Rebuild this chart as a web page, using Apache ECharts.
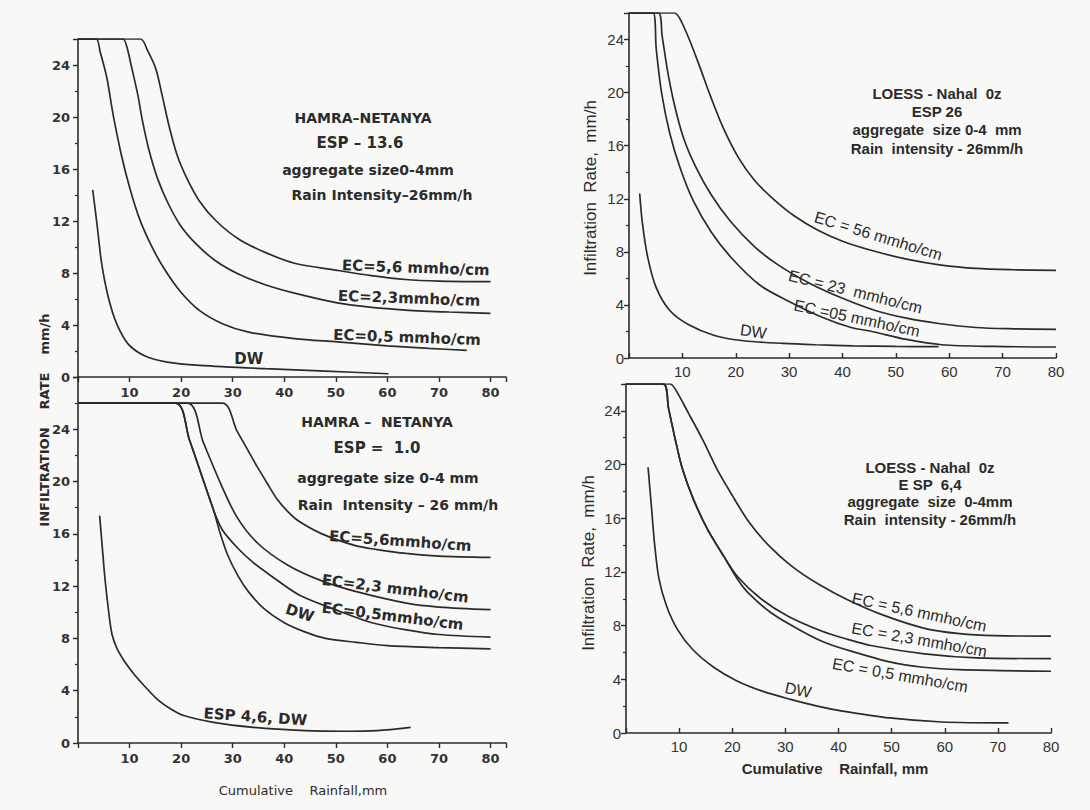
<!DOCTYPE html>
<html><head><meta charset="utf-8">
<script src="https://cdn.jsdelivr.net/npm/echarts@6/dist/echarts.min.js"></script>
<style>html,body{margin:0;padding:0;background:#f8f8f6}#c{width:1090px;height:810px}</style>
</head><body><div id="c"></div>
<script>
// ---------------- tick labels ----------------
const xTickValues = [10, 20, 30, 40, 50, 60, 70, 80];
const yTickValues = [0, 4, 8, 12, 16, 20, 24];

// ---------------- HAMRA-NETANYA, ESP 13.6 (top left) ----------------
const hamra136_EC56 = [[0,26],[12.1,26],[13.5,25.1],[15.1,23.7],[16.3,21.7],[17.6,19.4],[19.2,17.1],[21.1,15.3],[23.6,13.5],[26.8,12.0],[31.2,10.6],[36.5,9.55],[42,8.75],[50.3,8.2],[56.9,7.8],[63.5,7.5],[70,7.38],[80,7.33]];
const hamra136_EC23 = [[0,26],[8.7,26],[9.4,25.5],[10.3,24],[11.6,21.7],[12.5,19.7],[13.8,17.4],[15.4,15.3],[17.3,13.5],[19.8,11.7],[23,10.2],[26.8,8.9],[31.2,7.9],[36.3,7.1],[42,6.45],[50.3,5.7],[57,5.35],[63.5,5.15],[72,5.0],[80,4.9]];
const hamra136_EC05 = [[0,26],[3.5,26],[4.3,25],[5.6,23],[6.8,20.2],[8.4,17.1],[10,14.6],[11.9,12.2],[14.1,10.2],[16.6,8.4],[19.8,6.6],[23.6,5.1],[28,4.1],[33.1,3.45],[42,2.95],[50.3,2.7],[60,2.4],[68,2.2],[75.4,2.05]];
const hamra136_DW   = [[2.85,14.4],[3.7,11.7],[4.6,8.7],[5.9,6.1],[7.5,4.1],[9.7,2.55],[12.8,1.66],[17.3,1.15],[23.6,0.9],[36.3,0.64],[48,0.45],[60.2,0.25]];

// ---------------- HAMRA-NETANYA, ESP 1.0 (bottom left) ----------------
const hamra10_EC56 = [[0,26],[28,26],[30.8,23.9],[32.8,22.5],[34.8,21.1],[36.8,19.8],[38.7,18.6],[40.7,17.7],[42.7,17.0],[47.3,16.0],[53.8,15.1],[58,14.8],[63.7,14.5],[70,14.3],[80,14.2]];
const hamra10_EC23 = [[0,26],[21.2,26],[24.3,23.0],[27.6,19.9],[30.8,17.3],[34.8,15.3],[40.7,13.6],[47.3,12.4],[53.8,11.6],[63.7,10.7],[70,10.4],[80,10.2]];
const hamra10_EC05 = [[0,26],[18.9,26],[21.6,23.2],[24.3,20.1],[26.3,17.8],[28,16.3],[31,14.9],[34,13.8],[37.4,12.8],[43,11.3],[50.6,10.1],[57,9.2],[63.7,8.65],[70,8.3],[80,8.1]];
const hamra10_DW   = [[0,26],[18.9,26],[21.6,23.2],[24.3,20.1],[26.3,17.8],[27.6,16.0],[29,14.4],[31,12.8],[33,11.6],[36,10.3],[40,9.2],[44,8.5],[48,8.0],[54,7.7],[60,7.45],[70,7.3],[80,7.2]];
const hamra46_DW   = [[4.2,17.4],[4.6,15.5],[5.2,12.7],[5.9,10.2],[6.6,8.3],[7.6,7.2],[9.1,6.2],[11,5.2],[12.8,4.4],[15.5,3.3],[18,2.6],[20.5,2.1],[26,1.6],[34,1.2],[44,0.95],[52,0.9],[58,0.95],[64.5,1.2]];

// ---------------- LOESS-Nahal Oz, ESP 26 (top right) ----------------
const loess26_EC56 = [[0,26],[8.5,26],[9.5,25.6],[11.3,24],[13.3,21.9],[15.3,19.7],[17.7,17.3],[20.5,15.1],[23.5,13.4],[27,12.0],[31,10.7],[35.5,9.6],[40,8.8],[45.5,8.1],[52,7.45],[58.5,7.0],[65,6.75],[72,6.65],[80,6.6]];
const loess26_EC23 = [[0,26],[5.5,26],[6.2,24.3],[7.2,21.7],[8.5,19.1],[10.2,16.6],[12.5,14.4],[15.4,12.3],[19,10.3],[23.5,8.4],[28,7.0],[34,5.6],[40,4.5],[46,3.6],[52,3.0],[58,2.6],[65,2.3],[72,2.2],[80,2.15]];
const loess26_EC05 = [[0,26],[4.5,26],[5.1,23.3],[6.1,20.0],[7.6,17.0],[9.6,14.3],[12.1,11.8],[15.4,9.5],[19.3,7.5],[24.5,5.5],[29.8,4.3],[36.3,3.05],[41.6,2.3],[45.5,2.0],[52,1.4],[58.6,1.0],[68.5,0.87],[80,0.83]];
const loess26_DW   = [[2,12.4],[2.5,10.2],[3.5,7.6],[5.1,5.3],[7.6,3.6],[11.2,2.5],[16,1.7],[21.5,1.3],[28.9,1.1],[35,1.0],[42,0.92],[50,0.87],[58,0.85]];

// ---------------- LOESS-Nahal Oz, ESP 6.4 (bottom right) ----------------
const loess64_EC56 = [[0,26],[8.3,26],[9.3,25.6],[11.8,23.8],[14.5,21.8],[17.2,19.6],[20,17.7],[23,15.8],[26.8,14.0],[31.3,12.4],[36.6,11.0],[41.6,9.95],[48.3,8.8],[56.2,7.8],[62.8,7.4],[69.4,7.25],[80,7.22]];
const loess64_EC23 = [[0,26],[7,26],[8,24.2],[9.2,22],[10.6,19.7],[12.6,17.5],[15.3,15.2],[18.5,13.1],[21.1,11.6],[25.4,10.0],[30.5,8.7],[36.8,7.6],[41.5,7.0],[46.3,6.5],[56.2,5.9],[66,5.6],[80,5.54]];
const loess64_EC05 = [[0,26],[7,26],[8,24.2],[9.2,22],[10.6,19.7],[12.6,17.5],[15.3,15.2],[18.5,13.1],[21.1,11.4],[23.1,10.4],[27.5,8.9],[32.6,7.7],[37.1,6.8],[41.5,6.2],[49.6,5.3],[56,4.9],[62.8,4.72],[80,4.6]];
const loess64_DW   = [[4.15,19.8],[4.8,16.8],[5.4,14.0],[6.2,11.5],[7.6,9.5],[9.7,7.7],[12.6,6.2],[16.5,4.9],[20.8,3.9],[25.8,3.1],[31,2.5],[36,2.0],[40.5,1.65],[49.6,1.12],[59.5,0.82],[72,0.75]];

// ---------------- curve label texts ----------------
const labelsTL = ['EC=5,6 mmho/cm', 'EC=2,3mmho/cm', 'EC=0,5 mmho/cm', 'DW'];
const labelsBL = ['EC=5,6mmho/cm', 'EC=2,3 mmho/cm', 'EC=0,5mmho/cm', 'DW', 'ESP 4,6, DW'];
const labelsTR = ['EC = 56 mmho/cm', 'EC = 23  mmho/cm', 'EC =05 mmho/cm', 'DW'];
const labelsBR = ['EC = 5,6 mmho/cm', 'EC = 2,3 mmho/cm', 'EC = 0,5 mmho/cm', 'DW'];

// ---------------- layout / styling (not data) ----------------
const INK = '#2b2b2b';
const FONT_L = 'DejaVu Sans';
const FONT_R = 'Liberation Sans';
// label anchors in data units [x, y, rotate]
const anchorsTL = [[65.5,8.4,-2],[64.2,6.05,-2],[63.8,3.05,-2],[33.1,1.4,0]];
const anchorsBL = [[62.5,15.45,-4],[61.5,11.8,-7],[61,9.7,-7],[43,9.95,-18],[34.4,2.0,-4]];
const anchorsTR = [[46.7,9.2,-17],[42.4,5.0,-14],[42.7,3.0,-12],[23.3,2.0,-8]];
const anchorsBR = [[55.2,9.0,-12],[55.2,6.95,-10],[51.6,4.3,-10],[32.4,3.2,-12]];

const grids = [
  {left: 78, top: 39, width: 428, height: 338},
  {left: 78, top: 377, width: 428, height: 366},
  {left: 629, top: 13, width: 427, height: 345},
  {left: 626, top: 384, width: 425, height: 349}
];

function xAx(gi, max, inside, font, margin) {
  return {
    type: 'value', gridIndex: gi, min: 0, max: max, interval: 10,
    axisLine: {show: true, onZero: false, lineStyle: {color: INK, width: 1.6}},
    axisTick: {show: true, inside: inside, length: 5, lineStyle: {color: INK, width: 1.4}},
    splitLine: {show: false},
    axisLabel: {
      margin: margin, color: '#333', fontFamily: font.family, fontSize: font.size, fontWeight: font.weight,
      showMaxLabel: true,
      formatter: v => xTickValues.indexOf(v) >= 0 ? String(v) : ''
    }
  };
}
function yAx(gi, max, font, margin) {
  return {
    type: 'value', gridIndex: gi, min: 0, max: max, interval: 4,
    axisLine: {show: true, onZero: false, lineStyle: {color: INK, width: 1.6}},
    axisTick: {show: true, inside: false, length: 5, lineStyle: {color: INK, width: 1.4}},
    minorTick: {show: true, splitNumber: 2, length: 3, lineStyle: {color: INK, width: 1.2}},
    splitLine: {show: false},
    axisLabel: {
      margin: margin, color: '#333', fontFamily: font.family, fontSize: font.size, fontWeight: font.weight,
      formatter: v => yTickValues.indexOf(v) >= 0 ? String(v) : ''
    }
  };
}

const fL = {family: FONT_L, size: 13, weight: 'bold'};
const fR = {family: FONT_R, size: 15, weight: 'normal'};

function mp(texts, anchors, font) {
  return {
    symbol: 'circle', symbolSize: 1, silent: true,
    itemStyle: {color: 'rgba(0,0,0,0)'},
    data: texts.map((t, i) => ({
      coord: [anchors[i][0], anchors[i][1]],
      label: {show: true, position: 'inside', formatter: t, rotate: anchors[i][2],
              color: INK, fontFamily: font.family, fontSize: font.size, fontWeight: font.weight}
    }))
  };
}

function line(gi, data, markPoint) {
  const s = {
    type: 'line', xAxisIndex: gi, yAxisIndex: gi, data: data,
    showSymbol: false, symbol: 'none', smooth: 0.3,
    lineStyle: {color: INK, width: 1.7}, animation: false, silent: true, z: 2
  };
  if (markPoint) s.markPoint = markPoint;
  return s;
}

const fLab = {family: FONT_L, size: 15, weight: 'bold'};
const fLabR = {family: FONT_R, size: 16, weight: 'normal'};

const series = [
  line(0, hamra136_EC56, mp(labelsTL, anchorsTL, fLab)),
  line(0, hamra136_EC23), line(0, hamra136_EC05), line(0, hamra136_DW),
  line(1, hamra10_EC56, mp(labelsBL, anchorsBL, fLab)),
  line(1, hamra10_EC23), line(1, hamra10_EC05), line(1, hamra10_DW), line(1, hamra46_DW),
  line(2, loess26_EC56, mp(labelsTR, anchorsTR, fLabR)),
  line(2, loess26_EC23), line(2, loess26_EC05), line(2, loess26_DW),
  line(3, loess64_EC56, mp(labelsBR, anchorsBR, fLabR)),
  line(3, loess64_EC23), line(3, loess64_EC05), line(3, loess64_DW)
];

function txt(x, y, s, font, size, weight, rot, align) {
  return {type: 'text', x: x, y: y, rotation: rot || 0, silent: true,
    style: {text: s, fill: INK, font: (weight || 'normal') + ' ' + size + 'px "' + font + '"',
            textAlign: align || 'center', textVerticalAlign: 'middle'}};
}

const graphics = [
  // top-left title block
  txt(363, 118, 'HAMRA–NETANYA', FONT_L, 14, 'bold'),
  txt(360, 143, 'ESP – 13.6', FONT_L, 15, 'bold'),
  txt(368, 170, 'aggregate size0-4mm', FONT_L, 14, 'bold'),
  txt(382, 195, 'Rain Intensity–26mm/h', FONT_L, 14, 'bold'),
  // bottom-left title block
  txt(377, 422, 'HAMRA –  NETANYA', FONT_L, 14, 'bold'),
  txt(377, 448, 'ESP =  1.0', FONT_L, 15, 'bold'),
  txt(388, 478, 'aggregate size 0-4 mm', FONT_L, 14, 'bold'),
  txt(398, 505, 'Rain  Intensity – 26 mm/h', FONT_L, 14, 'bold'),
  // top-right title block
  txt(937, 93, 'LOESS - Nahal  0z', FONT_R, 15, 'bold'),
  txt(937, 111, 'ESP 26', FONT_R, 15, 'bold'),
  txt(937, 129, 'aggregate  size 0-4  mm', FONT_R, 15, 'bold'),
  txt(937, 148, 'Rain  intensity - 26mm/h', FONT_R, 15, 'bold'),
  // bottom-right title block
  txt(930, 467, 'LOESS - Nahal  0z', FONT_R, 15, 'bold'),
  txt(930, 484, 'E SP  6,4', FONT_R, 15, 'bold'),
  txt(930, 501, 'aggregate  size  0-4mm', FONT_R, 15, 'bold'),
  txt(930, 519, 'Rain  intensity - 26mm/h', FONT_R, 15, 'bold'),
  // axis names
  txt(44, 420, 'INFILTRATION    RATE    mm/h', FONT_L, 13, 'bold', Math.PI / 2),
  txt(303, 790, 'Cumulative    Rainfall,mm', FONT_L, 13, 'normal'),
  txt(590, 188, 'Infiltration  Rate,  mm/h', FONT_R, 17, 'normal', Math.PI / 2),
  txt(588, 563, 'Infiltration  Rate,  mm/h', FONT_R, 17, 'normal', Math.PI / 2),
  txt(835, 768, 'Cumulative    Rainfall, mm', FONT_R, 15, 'bold')
];

const chart = echarts.init(document.getElementById('c'), null, {renderer: 'svg'});
chart.setOption({
  backgroundColor: '#f8f8f6',
  animation: false,
  grid: grids,
  xAxis: [xAx(0, 83, false, fL, 9), xAx(1, 83, false, fL, 9), xAx(2, 80, true, fR, 6), xAx(3, 80, true, fR, 6)],
  yAxis: [yAx(0, 26, fL, 8), yAx(1, 28, fL, 8), yAx(2, 26, fR, 5), yAx(3, 26, fR, 5)],
  series: series,
  graphic: graphics
});
</script>
</body></html>
